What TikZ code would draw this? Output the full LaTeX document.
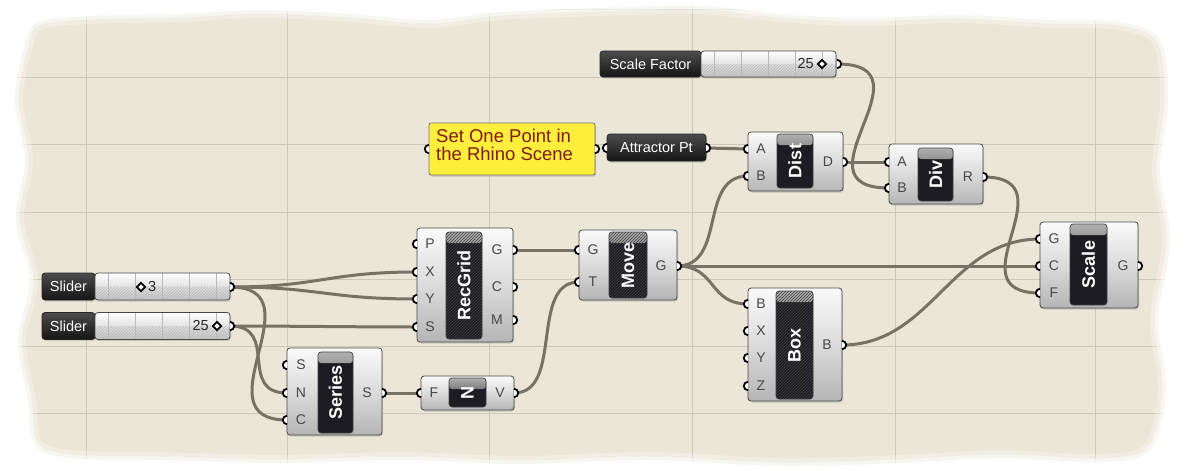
\documentclass[tikz,border=0pt]{standalone}
\usepackage{fontspec}
\setmainfont{Liberation Sans}
\usetikzlibrary{shapes.geometric,patterns,shadows,calc}
\definecolor{paper}{RGB}{236,230,216}
\definecolor{gridc}{RGB}{206,200,184}
\definecolor{wirec}{RGB}{118,115,102}
\definecolor{panely}{RGB}{255,238,60}
\definecolor{paneltxt}{RGB}{128,28,12}
\definecolor{darkc}{RGB}{28,28,34}
\definecolor{edgec}{RGB}{72,72,72}
\newcommand\fsz[1]{\fontsize{#1}{#1}\selectfont}
\newcommand\ghIn[1]{\fill[white] ([yshift=4.2pt]#1) arc[start angle=90,end angle=270,radius=4.2pt] -- cycle;
  \draw[port] ([yshift=4.2pt]#1) arc[start angle=90,end angle=270,radius=4.2pt];}
\newcommand\ghOut[1]{\fill[white] ([yshift=4.2pt]#1) arc[start angle=90,end angle=-90,radius=4.2pt] -- cycle;
  \draw[port] ([yshift=4.2pt]#1) arc[start angle=90,end angle=-90,radius=4.2pt];}
\tikzset{
  gridline/.style={draw=gridc, line width=0.8pt},
  wire/.style={draw=wirec, line width=3pt},
  port/.style={draw=black, line width=1.8pt},
  body/.style={draw=edgec, line width=0.8pt, rounded corners=3pt, inner sep=0pt,
    top color=gray!4, bottom color=gray!58, middle color=gray!28,
    drop shadow={shadow xshift=1pt, shadow yshift=-1.5pt, opacity=0.3}},
  inner/.style={draw=black!75, line width=0.6pt, rounded corners=3pt, inner sep=0pt, fill=darkc,
    path picture={\shade[top color=gray!62, bottom color=gray!30!black]
      (path picture bounding box.north west) rectangle ([yshift=-11pt]path picture bounding box.north east);}},
  hatched/.style={postaction={pattern=north east lines, pattern color=gray!50!black}},
  title/.style={rotate=90, font=\bfseries\fsz{18}, text=white, inner sep=0pt},
  plbl/.style={font=\fsz{14}, text=black!72, inner sep=0pt},
  darklbl/.style={draw=black!85, line width=0.7pt, rounded corners=3pt, inner sep=0pt,
    top color=gray!60!black, bottom color=black!92, text=white, font=\fsz{14.5},
    drop shadow={shadow xshift=1pt, shadow yshift=-1.5pt, opacity=0.3}},
  sliderbody/.style={draw=edgec, line width=0.8pt, rounded corners=3pt, inner sep=0pt,
    top color=white, bottom color=gray!45,
    drop shadow={shadow xshift=1pt, shadow yshift=-1.5pt, opacity=0.3},
    path picture={
      \fill[pattern=north east lines, pattern color=gray!55]
        (path picture bounding box.south west) rectangle (path picture bounding box.east);
      \foreach \f in {0.1,0.3,0.5,0.7,0.9}
        \draw[gray!55, line width=0.6pt]
          ($(path picture bounding box.south west)!\f!(path picture bounding box.south east)$) --
          ($(path picture bounding box.north west)!\f!(path picture bounding box.north east)$);}},
  valtxt/.style={font=\fsz{14.5}, text=black!85, inner sep=0pt},
  knob/.style={diamond, draw=black, line width=1.8pt, fill=white, inner sep=0pt, minimum size=9pt},
  panel/.style={draw=black!55, line width=0.8pt, rounded corners=2pt, fill=panely, inner sep=0pt,
    drop shadow={shadow xshift=1pt, shadow yshift=-1.5pt, opacity=0.3}},
  paneltext/.style={font=\fsz{18.5}, text=paneltxt, align=left, inner sep=0pt}
}
\begin{document}
\begin{tikzpicture}[x=1pt,y=-1pt]
\useasboundingbox (0,0) rectangle (1186,471);
\fill[white] (0,0) rectangle (1186,471);
% paper
\fill[paper] plot[smooth cycle, tension=0.55] coordinates {(25,45) (38,22) (90,16) (180,14) (260,10) (350,14) (430,20) (500,12) (600,8) (700,6) (780,14) (860,18) (960,15) (1050,20) (1120,22) (1160,40) (1168,100) (1160,170) (1170,240) (1158,320) (1166,390) (1150,450) (1100,462) (1000,458) (900,463) (780,466) (650,460) (520,464) (400,460) (280,463) (160,460) (70,458) (35,445) (28,400) (18,340) (30,280) (16,220) (25,160) (15,100)};
\begin{scope}
\clip plot[smooth cycle, tension=0.55] coordinates {(25,45) (38,22) (90,16) (180,14) (260,10) (350,14) (430,20) (500,12) (600,8) (700,6) (780,14) (860,18) (960,15) (1050,20) (1120,22) (1160,40) (1168,100) (1160,170) (1170,240) (1158,320) (1166,390) (1150,450) (1100,462) (1000,458) (900,463) (780,466) (650,460) (520,464) (400,460) (280,463) (160,460) (70,458) (35,445) (28,400) (18,340) (30,280) (16,220) (25,160) (15,100)};
\foreach \gx in {86,287,489,692,895,1095} \draw[gridline] (\gx,0) -- (\gx,471);
\foreach \gy in {9,77,144,212,279,346,413} \draw[gridline] (0,\gy) -- (1186,\gy);
\end{scope}
\draw[white, line width=16pt, opacity=0.3] plot[smooth cycle, tension=0.55] coordinates {(25,45) (38,22) (90,16) (180,14) (260,10) (350,14) (430,20) (500,12) (600,8) (700,6) (780,14) (860,18) (960,15) (1050,20) (1120,22) (1160,40) (1168,100) (1160,170) (1170,240) (1158,320) (1166,390) (1150,450) (1100,462) (1000,458) (900,463) (780,466) (650,460) (520,464) (400,460) (280,463) (160,460) (70,458) (35,445) (28,400) (18,340) (30,280) (16,220) (25,160) (15,100)};
\draw[white, line width=7pt, opacity=0.5] plot[smooth cycle, tension=0.55] coordinates {(25,45) (38,22) (90,16) (180,14) (260,10) (350,14) (430,20) (500,12) (600,8) (700,6) (780,14) (860,18) (960,15) (1050,20) (1120,22) (1160,40) (1168,100) (1160,170) (1170,240) (1158,320) (1166,390) (1150,450) (1100,462) (1000,458) (900,463) (780,466) (650,460) (520,464) (400,460) (280,463) (160,460) (70,458) (35,445) (28,400) (18,340) (30,280) (16,220) (25,160) (15,100)};

% port coordinates
\coordinate (sl1-o) at (230,287);
\coordinate (sl2-o) at (230,326);
\coordinate (sf-o) at (837,64);
\coordinate (pn-i) at (429,149);
\coordinate (pn-o) at (595,149);
\coordinate (at-i) at (607,148);
\coordinate (at-o) at (706,148);
\coordinate (di-A) at (748,149);
\coordinate (di-B) at (748,176);
\coordinate (di-D) at (843,162);
\coordinate (dv-A) at (889,162);
\coordinate (dv-B) at (889,188);
\coordinate (dv-R) at (983,177);
\coordinate (rg-P) at (417,244);
\coordinate (rg-X) at (417,272);
\coordinate (rg-Y) at (417,299);
\coordinate (rg-S) at (417,327);
\coordinate (rg-G) at (513,250);
\coordinate (rg-C) at (513,287);
\coordinate (rg-M) at (513,320);
\coordinate (mv-G) at (579,250);
\coordinate (mv-T) at (579,282);
\coordinate (mv-o) at (677,266);
\coordinate (bx-B) at (748,304);
\coordinate (bx-X) at (748,331);
\coordinate (bx-Y) at (748,358);
\coordinate (bx-Z) at (748,386);
\coordinate (bx-o) at (842,345);
\coordinate (sc-G) at (1040,239);
\coordinate (sc-C) at (1040,266);
\coordinate (sc-F) at (1040,293);
\coordinate (sc-o) at (1138,266);
\coordinate (se-S) at (287,365);
\coordinate (se-N) at (287,393);
\coordinate (se-C) at (287,420);
\coordinate (se-o) at (382,393);
\coordinate (nn-F) at (421,393);
\coordinate (nn-V) at (514,393);

% wires
\draw[wire] (sl1-o) .. controls +(90,0) and +(-90,0) .. (rg-X);
\draw[wire] (sl1-o) .. controls +(90,0) and +(-90,0) .. (rg-Y);
\draw[wire] (sl1-o) .. controls +(90,0) and +(-90,0) .. (se-C);
\draw[wire] (sl2-o) .. controls +(60,0) and +(-60,0) .. (rg-S);
\draw[wire] (sl2-o) .. controls +(50,0) and +(-50,0) .. (se-N);
\draw[wire] (se-o) -- (nn-F);
\draw[wire] (nn-V) .. controls +(50,0) and +(-50,0) .. (mv-T);
\draw[wire] (rg-G) -- (mv-G);
\draw[wire] (mv-o) .. controls +(50,0) and +(-50,0) .. (di-B);
\draw[wire] (mv-o) -- (sc-C);
\draw[wire] (mv-o) .. controls +(40,0) and +(-40,0) .. (bx-B);
\draw[wire] (at-o) -- (di-A);
\draw[wire] (di-D) -- (dv-A);
\draw[wire] (sf-o) .. controls +(100,0) and +(-100,0) .. (dv-B);
\draw[wire] (dv-R) .. controls +(90,0) and +(-90,0) .. (sc-F);
\draw[wire] (bx-o) .. controls +(90,0) and +(-90,0) .. (sc-G);

% sliders
\node[darklbl, minimum width=53pt, minimum height=27pt] (sl1-l) at (68.5,286.5) {Slider};
\node[sliderbody, minimum width=135pt, minimum height=27pt] (sl1-b) at (162.5,286.5) {};
\node[knob] (sl1-k) at (141,287) {};
\node[valtxt, anchor=west] (sl1-v) at (148,287) {3};
\node[darklbl, minimum width=53pt, minimum height=27pt] (sl2-l) at (68.5,326) {Slider};
\node[sliderbody, minimum width=135pt, minimum height=27pt] (sl2-b) at (162.5,326) {};
\node[knob] (sl2-k) at (217,326) {};
\node[valtxt, anchor=east] (sl2-v) at (209,326) {25};
\node[darklbl, minimum width=101pt, minimum height=26pt] (sf-l) at (650.5,64) {Scale Factor};
\node[sliderbody, minimum width=135pt, minimum height=26pt] (sf-b) at (768.5,64) {};
\node[knob] (sf-k) at (822,64) {};
\node[valtxt, anchor=east] (sf-v) at (814,64) {25};

% panel and point param
\node[panel, minimum width=166pt, minimum height=52pt] (pn) at (512,149) {};
\node[paneltext, anchor=west] (pn-t) at (436,145) {Set One Point in\\the Rhino Scene};
\node[darklbl, minimum width=99pt, minimum height=27pt] (at) at (656.5,147.5) {Attractor Pt};

% RecGrid
\node[body, minimum width=96pt, minimum height=114pt] (rg) at (465,285) {};
\node[inner, hatched, minimum width=36pt, minimum height=107pt] (rg-in) at (464,285.5) {};
\node[title] (rg-t) at (rg-in) {RecGrid};
\node[plbl] (rg-lP) at (430,244) {P};
\node[plbl] (rg-lX) at (430,272) {X};
\node[plbl] (rg-lY) at (430,299) {Y};
\node[plbl] (rg-lS) at (430,327) {S};
\node[plbl] (rg-lG) at (497,250) {G};
\node[plbl] (rg-lC) at (497,287) {C};
\node[plbl] (rg-lM) at (497,320) {M};

% Move
\node[body, minimum width=98pt, minimum height=70pt] (mv) at (628,265) {};
\node[inner, hatched, minimum width=38pt, minimum height=66pt] (mv-in) at (628,265) {};
\node[title] (mv-t) at (mv-in) {Move};
\node[plbl] (mv-lG) at (593,250) {G};
\node[plbl] (mv-lT) at (593,282) {T};
\node[plbl] (mv-lo) at (661,266) {G};

% Dist
\node[body, minimum width=95pt, minimum height=59pt] (di) at (795.5,161.5) {};
\node[inner, minimum width=36pt, minimum height=54pt] (di-in) at (795,161) {};
\node[title] (di-t) at (di-in) {Dist};
\node[plbl] (di-lA) at (761,149) {A};
\node[plbl] (di-lB) at (761,176) {B};
\node[plbl] (di-lD) at (828,162) {D};

% Div
\node[body, minimum width=94pt, minimum height=60pt] (dv) at (936,174) {};
\node[inner, minimum width=35pt, minimum height=53pt] (dv-in) at (935.5,174.5) {};
\node[title] (dv-t) at (dv-in) {Div};
\node[plbl] (dv-lA) at (902,162) {A};
\node[plbl] (dv-lB) at (902,188) {B};
\node[plbl] (dv-lR) at (968,177) {R};

% Box
\node[body, minimum width=94pt, minimum height=113pt] (bx) at (795,344.5) {};
\node[inner, hatched, minimum width=37pt, minimum height=108pt] (bx-in) at (794.5,345) {};
\node[title] (bx-t) at (bx-in) {Box};
\node[plbl] (bx-lB) at (761,304) {B};
\node[plbl] (bx-lX) at (761,331) {X};
\node[plbl] (bx-lY) at (761,358) {Y};
\node[plbl] (bx-lZ) at (761,386) {Z};
\node[plbl] (bx-lo) at (827,345) {B};

% Scale
\node[body, minimum width=98pt, minimum height=86pt] (sc) at (1089,265) {};
\node[inner, minimum width=37pt, minimum height=81pt] (sc-in) at (1088.5,264.5) {};
\node[title] (sc-t) at (sc-in) {Scale};
\node[plbl] (sc-lG) at (1054,239) {G};
\node[plbl] (sc-lC) at (1054,266) {C};
\node[plbl] (sc-lF) at (1054,293) {F};
\node[plbl] (sc-lo) at (1123,266) {G};

% Series
\node[body, minimum width=95pt, minimum height=87pt] (se) at (334.5,391.5) {};
\node[inner, minimum width=35pt, minimum height=81pt] (se-in) at (335.5,392.5) {};
\node[title] (se-t) at (se-in) {Series};
\node[plbl] (se-lS) at (301,365) {S};
\node[plbl] (se-lN) at (301,393) {N};
\node[plbl] (se-lC) at (301,420) {C};
\node[plbl] (se-lo) at (367,393) {S};

% N (unit z)
\node[body, minimum width=93pt, minimum height=34pt] (nn) at (467.5,393) {};
\node[inner, minimum width=37pt, minimum height=29pt] (nn-in) at (467.5,392.5) {};
\node[title] (nn-t) at (nn-in) {N};
\node[plbl] (nn-lF) at (434,393) {F};
\node[plbl] (nn-lV) at (500,393) {V};

% ports
\ghOut{sl1-o} \ghOut{sl2-o} \ghOut{sf-o}
\ghIn{pn-i} \ghOut{pn-o} \ghIn{at-i} \ghOut{at-o}
\ghIn{di-A} \ghIn{di-B} \ghOut{di-D}
\ghIn{dv-A} \ghIn{dv-B} \ghOut{dv-R}
\ghIn{rg-P} \ghIn{rg-X} \ghIn{rg-Y} \ghIn{rg-S} \ghOut{rg-G} \ghOut{rg-C} \ghOut{rg-M}
\ghIn{mv-G} \ghIn{mv-T} \ghOut{mv-o}
\ghIn{bx-B} \ghIn{bx-X} \ghIn{bx-Y} \ghIn{bx-Z} \ghOut{bx-o}
\ghIn{sc-G} \ghIn{sc-C} \ghIn{sc-F} \ghOut{sc-o}
\ghIn{se-S} \ghIn{se-N} \ghIn{se-C} \ghOut{se-o}
\ghIn{nn-F} \ghOut{nn-V}
\end{tikzpicture}
\end{document}
